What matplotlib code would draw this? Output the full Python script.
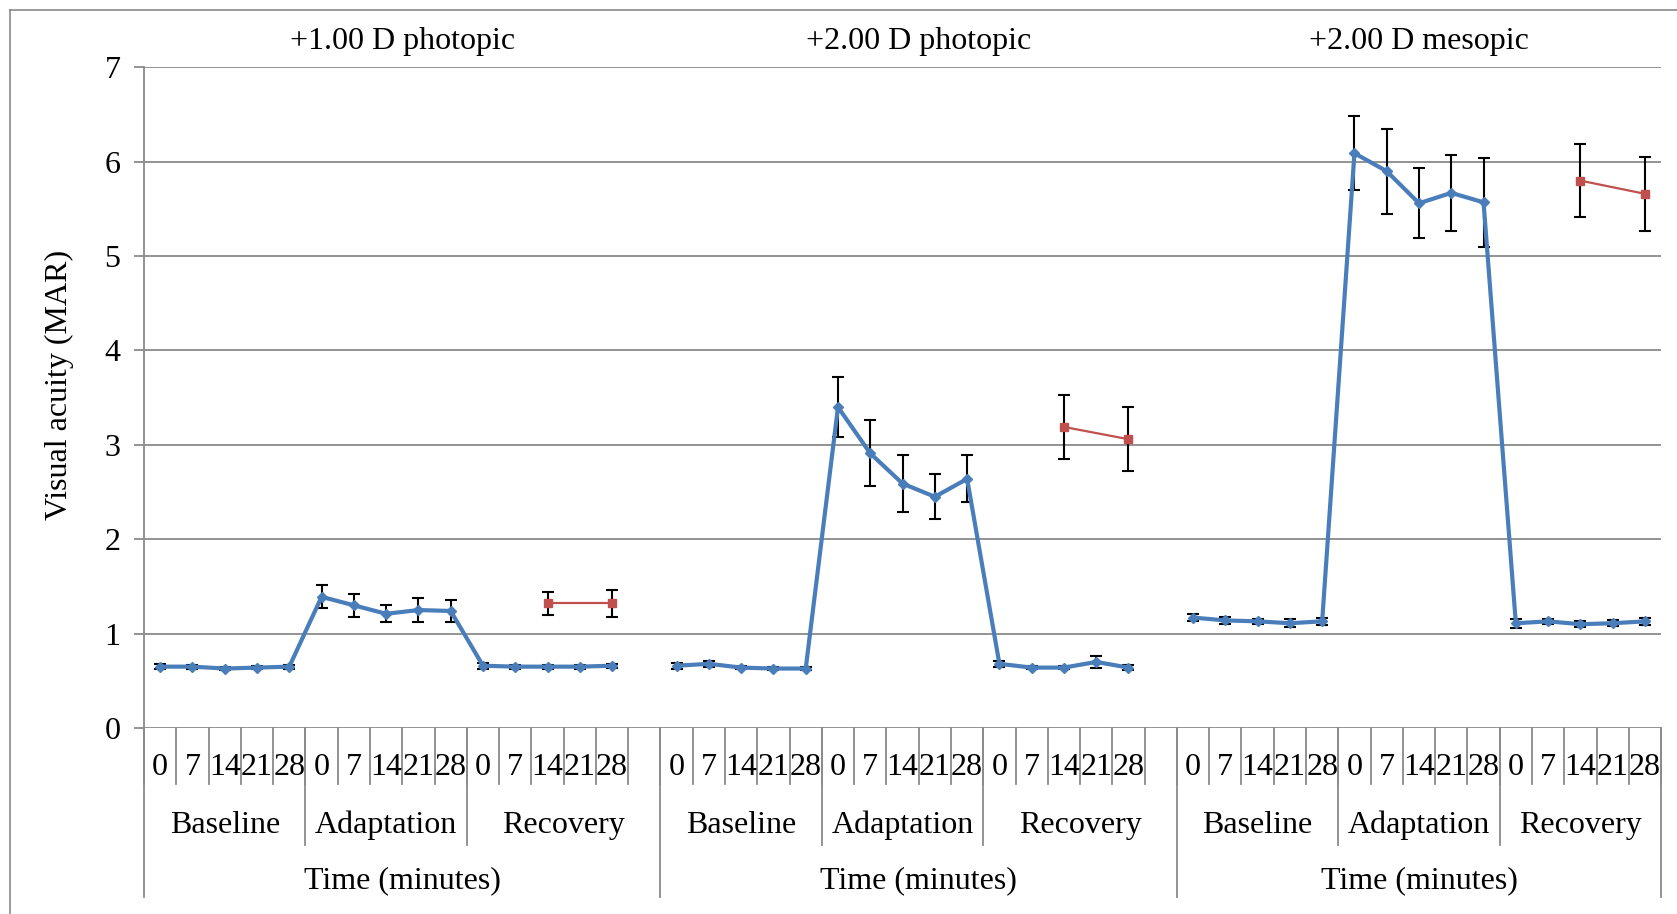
import matplotlib.pyplot as plt
import matplotlib.transforms as mtransforms
import numpy as np

plt.rcParams['font.family'] = ['Liberation Serif', 'DejaVu Serif']

# Category levels of the x axis
conditions = ['+1.00 D photopic', '+2.00 D photopic', '+2.00 D mesopic']
phases = ['Baseline', 'Adaptation', 'Recovery']
minutes = ['0', '7', '14', '21', '28']

# Mean MAR and error per condition (5 baseline, 5 adaptation, 5 recovery)
p1_mean = [0.65, 0.65, 0.63, 0.64, 0.65, 1.39, 1.30, 1.21, 1.25, 1.24, 0.66, 0.65, 0.65, 0.65, 0.66]
p1_err = [0.03, 0.02, 0.02, 0.02, 0.02, 0.12, 0.12, 0.09, 0.13, 0.12, 0.03, 0.02, 0.02, 0.02, 0.02]
p2_mean = [0.66, 0.68, 0.64, 0.63, 0.63, 3.40, 2.91, 2.59, 2.45, 2.64, 0.68, 0.64, 0.64, 0.70, 0.64]
p2_err = [0.03, 0.03, 0.02, 0.02, 0.02, 0.32, 0.35, 0.30, 0.24, 0.25, 0.03, 0.02, 0.02, 0.06, 0.03]
p3_mean = [1.17, 1.14, 1.13, 1.11, 1.13, 6.09, 5.90, 5.56, 5.67, 5.57, 1.11, 1.13, 1.10, 1.11, 1.13]
p3_err = [0.04, 0.04, 0.03, 0.04, 0.04, 0.39, 0.45, 0.37, 0.40, 0.47, 0.05, 0.03, 0.03, 0.03, 0.04]

# Second series, recovery at 14 and 28 minutes
red_slots = [12, 14]
r1_mean = [1.32, 1.32]
r1_err = [0.12, 0.14]
r2_mean = [3.19, 3.06]
r2_err = [0.34, 0.34]
r3_mean = [5.80, 5.66]
r3_err = [0.39, 0.39]

blue_means = [p1_mean, p2_mean, p3_mean]
blue_errs = [p1_err, p2_err, p3_err]
red_means = [r1_mean, r2_mean, r3_mean]
red_errs = [r1_err, r2_err, r3_err]

BLUE = '#4A7EBB'
RED = '#C0504D'
GRID = '#8A8A8A'
FS = 23

# each condition takes 15 slots plus one empty slot, except the last
panel_len = [16, 16, 15]
panel_start = np.cumsum([0] + panel_len[:-1])
n_slots = sum(panel_len)

fig = plt.figure(figsize=(16.77, 9.14), dpi=100)
ax = fig.add_axes([0.0859, 0.2035, 0.9046, 0.7228])

for p in range(3):
    x = panel_start[p] + np.arange(15) + 0.5
    ax.errorbar(x, blue_means[p], yerr=blue_errs[p], fmt='none', ecolor='black',
                elinewidth=1.5, capsize=4.5, capthick=1.5, zorder=3)
    ax.plot(x, blue_means[p], color=BLUE, lw=3.0, marker='D', ms=5, zorder=4)
    xr = panel_start[p] + np.array(red_slots) + 0.5
    ax.errorbar(xr, red_means[p], yerr=red_errs[p], fmt='none', ecolor='black',
                elinewidth=1.5, capsize=4.5, capthick=1.5, zorder=3)
    ax.plot(xr, red_means[p], color=RED, lw=1.6, marker='s', ms=5.5, zorder=4)

ax.set_xlim(0, n_slots)
ax.set_ylim(0, 7)
ax.set_yticks(range(8))
ax.yaxis.grid(True, color=GRID, lw=1.3)
ax.set_axisbelow(True)
ax.set_xticks([])
for side in ['top', 'right', 'bottom', 'left']:
    ax.spines[side].set_visible(False)
ax.tick_params(axis='y', direction='out', length=7, width=1.3, color=GRID,
               labelsize=FS, pad=10)
ax.set_ylabel('Visual acuity (MAR)', fontsize=FS)
ax.yaxis.set_label_coords(-0.046, 0.52)

# multi-level category axis drawn below the plot
trans = mtransforms.blended_transform_factory(ax.transData, fig.transFigure)
y_axis = 0.2035
y_lvl1, y_lvl2, y_lvl3 = 0.1422, 0.0755, 0.0186
line_kw = dict(color=GRID, lw=1.3, transform=trans, clip_on=False)

ax.plot([0, 0], [y_axis, 0.9263], color=GRID, lw=1.3, clip_on=False,
        transform=trans)
for s in range(n_slots + 1):
    ax.plot([s, s], [y_axis, y_lvl1], **line_kw)

for p in range(3):
    s0 = panel_start[p]
    ax.plot([s0, s0], [y_axis, y_lvl3], **line_kw)
    for g in [5, 10]:
        ax.plot([s0 + g, s0 + g], [y_axis, y_lvl2], **line_kw)
    for g, phase in enumerate(phases):
        for k, m in enumerate(minutes):
            ax.text(s0 + g * 5 + k + 0.5, 0.160, m, transform=trans,
                    ha='center', va='center', fontsize=FS)
        g_end = s0 + panel_len[p] if g == 2 else s0 + g * 5 + 5
        ax.text((s0 + g * 5 + g_end) / 2, 0.097, phase, transform=trans,
                ha='center', va='center', fontsize=FS)
    ax.text(s0 + panel_len[p] / 2, 0.036, 'Time (minutes)', transform=trans,
            ha='center', va='center', fontsize=FS)
    ax.text(s0 + panel_len[p] / 2, 0.955, conditions[p], transform=trans,
            ha='center', va='center', fontsize=FS)
ax.plot([n_slots, n_slots], [y_axis, y_lvl3], **line_kw)

# chart border
fig.add_artist(plt.Line2D([0.006, 1.0], [0.989, 0.989], color=GRID, lw=1.2,
                          transform=fig.transFigure))
fig.add_artist(plt.Line2D([0.006, 0.006], [0.0, 0.989], color=GRID, lw=1.2,
                          transform=fig.transFigure))

fig.savefig('out.png', dpi=100)
